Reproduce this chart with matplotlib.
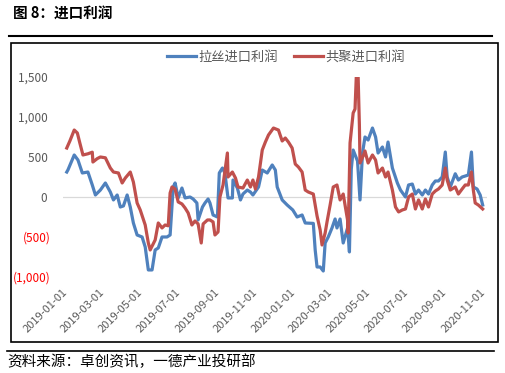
import pandas as pd
import matplotlib.pyplot as plt
import matplotlib.dates as mdates
from matplotlib.lines import Line2D
from matplotlib.patches import Rectangle

plt.rcParams['font.family'] = ['Noto Sans CJK SC', 'DejaVu Sans']

# 拉丝进口利润 (blue)
blue_dates = ['2019-01-02', '2019-01-04', '2019-01-14', '2019-01-20', '2019-01-27', '2019-02-05',
              '2019-02-12', '2019-02-17', '2019-02-25', '2019-03-05', '2019-03-13', '2019-03-18',
              '2019-03-24', '2019-03-29', '2019-04-03', '2019-04-09', '2019-04-14', '2019-04-19',
              '2019-04-25', '2019-05-03', '2019-05-08', '2019-05-13', '2019-05-19', '2019-05-24',
              '2019-05-29', '2019-06-04', '2019-06-12', '2019-06-17', '2019-06-22', '2019-06-25',
              '2019-06-30', '2019-07-06', '2019-07-11', '2019-07-19', '2019-07-24', '2019-07-30',
              '2019-08-01', '2019-08-08', '2019-08-12', '2019-08-17', '2019-08-20', '2019-08-25',
              '2019-09-01', '2019-09-04', '2019-09-09', '2019-09-13', '2019-09-18', '2019-09-25',
              '2019-09-26', '2019-10-03', '2019-10-08', '2019-10-12', '2019-10-19', '2019-10-24',
              '2019-10-28', '2019-11-06', '2019-11-12', '2019-11-20', '2019-11-28', '2019-12-03',
              '2019-12-06', '2019-12-14', '2019-12-22', '2019-12-31', '2020-01-07', '2020-01-15',
              '2020-01-20', '2020-02-02', '2020-02-05', '2020-02-08', '2020-02-13', '2020-02-18',
              '2020-02-21', '2020-02-26', '2020-03-03', '2020-03-08', '2020-03-11', '2020-03-16',
              '2020-03-21', '2020-03-28', '2020-03-31', '2020-04-03', '2020-04-06', '2020-04-13',
              '2020-04-17', '2020-04-21', '2020-04-25', '2020-04-30', '2020-05-07', '2020-05-12',
              '2020-05-16', '2020-05-23', '2020-05-28', '2020-06-01', '2020-06-08', '2020-06-16',
              '2020-06-21', '2020-06-29', '2020-07-04', '2020-07-10', '2020-07-15', '2020-07-20',
              '2020-07-26', '2020-07-31', '2020-08-05', '2020-08-11', '2020-08-16', '2020-08-21',
              '2020-08-27', '2020-09-01', '2020-09-04', '2020-09-09', '2020-09-17', '2020-09-22',
              '2020-09-28', '2020-10-03', '2020-10-08', '2020-10-13', '2020-10-16', '2020-10-22',
              '2020-10-27', '2020-10-31']
blue_vals = [312, 340, 525, 462, 300, 312,
             150, 25, 87, 175, 62, -37,
             25, -125, -112, 25, -125, -325,
             -475, -500, -625, -912, -912, -662,
             -637, -500, -500, -475, 125, 175,
             -12, 112, -12, 0, -25, -75,
             -287, -125, -75, -25, -75, -225,
             -250, 300, 362, 300, -12, -12,
             212, 112, -37, 37, 87, 62,
             25, 125, 337, 300, 400, 337,
             125, -37, -100, -162, -250, -225,
             -325, -330, -662, -875, -875, -925,
             -575, -500, -387, -275, -387, -275,
             -575, -387, -687, 350, 587, 450,
             -37, 550, 750, 712, 862, 750,
             550, 625, 500, 687, 362, 175,
             87, 0, 150, 162, 37, 87,
             25, 87, 37, 150, 200, 200,
             250, 562, 250, 125, 290, 212,
             250, 262, 275, 562, 125, 100,
             25, -100]

# 共聚进口利润 (red)
red_dates = ['2019-01-02', '2019-01-07', '2019-01-14', '2019-01-19', '2019-01-23', '2019-01-28',
             '2019-02-05', '2019-02-12', '2019-02-13', '2019-02-20', '2019-02-25', '2019-03-05',
             '2019-03-13', '2019-03-18', '2019-03-26', '2019-04-01', '2019-04-06', '2019-04-14',
             '2019-04-19', '2019-04-25', '2019-04-30', '2019-05-08', '2019-05-13', '2019-05-16',
             '2019-05-24', '2019-05-29', '2019-06-04', '2019-06-09', '2019-06-14', '2019-06-17',
             '2019-06-20', '2019-06-25', '2019-06-30', '2019-07-06', '2019-07-11', '2019-07-16',
             '2019-07-22', '2019-07-27', '2019-08-01', '2019-08-06', '2019-08-09', '2019-08-16',
             '2019-08-20', '2019-08-25', '2019-08-28', '2019-09-02', '2019-09-05', '2019-09-10',
             '2019-09-17', '2019-09-18', '2019-09-25', '2019-09-30', '2019-10-04', '2019-10-12',
             '2019-10-19', '2019-10-24', '2019-10-28', '2019-11-01', '2019-11-06', '2019-11-12',
             '2019-11-17', '2019-11-22', '2019-11-30', '2019-12-08', '2019-12-14', '2019-12-19',
             '2019-12-24', '2019-12-30', '2020-01-04', '2020-01-09', '2020-01-15', '2020-01-20',
             '2020-01-25', '2020-02-02', '2020-02-08', '2020-02-13', '2020-02-16', '2020-02-21',
             '2020-02-24', '2020-02-29', '2020-03-05', '2020-03-11', '2020-03-16', '2020-03-21',
             '2020-03-28', '2020-03-29', '2020-04-01', '2020-04-06', '2020-04-09', '2020-04-11',
             '2020-04-14', '2020-04-16', '2020-04-17', '2020-04-22', '2020-04-25', '2020-04-30',
             '2020-05-07', '2020-05-12', '2020-05-16', '2020-05-23', '2020-05-28', '2020-06-01',
             '2020-06-08', '2020-06-13', '2020-06-18', '2020-06-24', '2020-06-29', '2020-07-04',
             '2020-07-10', '2020-07-15', '2020-07-20', '2020-07-26', '2020-07-31', '2020-08-05',
             '2020-08-11', '2020-08-16', '2020-08-21', '2020-08-27', '2020-09-01', '2020-09-04',
             '2020-09-09', '2020-09-17', '2020-09-22', '2020-09-28', '2020-10-03', '2020-10-08',
             '2020-10-13', '2020-10-16', '2020-10-19', '2020-10-24', '2020-10-31']
red_vals = [612, 700, 837, 800, 675, 525,
            540, 560, 437, 480, 500, 490,
            362, 312, 300, 175, 237, 312,
            187, -75, -162, -350, -575, -662,
            -537, -325, -387, -350, -360, 50,
            125, 100, -62, -87, -137, -200,
            -350, -300, -337, -575, -337, -287,
            -287, -312, -475, -437, 0, 150,
            550, 250, 312, 237, 125, 112,
            212, 125, 212, 100, 250, 587,
            687, 775, 862, 837, 700, 737,
            687, 612, 412, 375, 312, 87,
            62, 37, -237, -412, -600, -450,
            -312, -100, 125, 150, -37, 37,
            -287, -450, 675, 1050, 1100, 1500,
            1500, 900, 425, 512, 575, 425,
            525, 462, 300, 362, 250, 312,
            87, -125, -187, -162, -150, 0,
            37, -150, -37, -150, -25, -125,
            37, 75, 100, 150, 362, 212,
            87, 125, 37, 100, 150, 150,
            312, 87, -75, -100, -150]

yticks = [-1000, -500, 0, 500, 1000, 1500]
ylabels = ['(1,000)', '(500)', '0 ', '500 ', '1,000 ', '1,500 ']

grey = '#595959'

fig = plt.figure(figsize=(5.05, 3.73), dpi=100)
ax = fig.add_axes([0.1248, 0.2574, 0.8396, 0.5362])

ax.axhline(0, color='#D9D9D9', lw=0.9, zorder=0)
ax.plot(pd.to_datetime(blue_dates), blue_vals, color='#4F81BD', lw=2.3, label='拉丝进口利润')
ax.plot(pd.to_datetime(red_dates), red_vals, color='#C0504D', lw=2.3, label='共聚进口利润')

ax.set_ylim(-1000, 1500)
ax.set_xlim(pd.Timestamp('2018-12-27'), pd.Timestamp('2020-11-07'))

ax.set_yticks(yticks, labels=ylabels)
for lab, v in zip(ax.get_yticklabels(), yticks):
    lab.set_color('red' if v < 0 else grey)

ax.xaxis.set_major_locator(mdates.MonthLocator(bymonth=[1, 3, 5, 7, 9, 11]))
ax.xaxis.set_major_formatter(mdates.DateFormatter('%Y-%m-%d'))
ax.tick_params(axis='x', length=0, pad=10, labelsize=8, labelcolor=grey)
ax.tick_params(axis='y', length=0, pad=9, labelsize=8.5)
for lab in ax.get_xticklabels():
    lab.set_rotation(45)
    lab.set_ha('right')
    lab.set_va('center')
    lab.set_rotation_mode('anchor')

for s in ax.spines.values():
    s.set_visible(False)

leg = fig.legend(loc='center', bbox_to_anchor=(0.566, 0.847), ncol=2, frameon=False,
                 fontsize=9.5, handlelength=2.2, handletextpad=0.2, columnspacing=1.2)
for t in leg.get_texts():
    t.set_color(grey)

fig.text(13 / 505, 1 - 14 / 373, '图 8：进口利润', fontsize=10.5, fontweight='bold', va='center')
fig.add_artist(Line2D([9 / 505, 492 / 505], [1 - 36 / 373] * 2, color='black', lw=1.5))
fig.add_artist(Rectangle((11 / 505, 1 - 342 / 373), 487 / 505, 299 / 373, fill=False,
                         ec='black', lw=1.2, transform=fig.transFigure))
fig.add_artist(Line2D([7 / 505, 494 / 505], [1 - 351 / 373] * 2, color='black', lw=1.2))
fig.text(7 / 505, 1 - 362 / 373, '资料来源：卓创资讯，一德产业投研部', fontsize=10.5, va='center')

fig.savefig('out.png', dpi=100)
